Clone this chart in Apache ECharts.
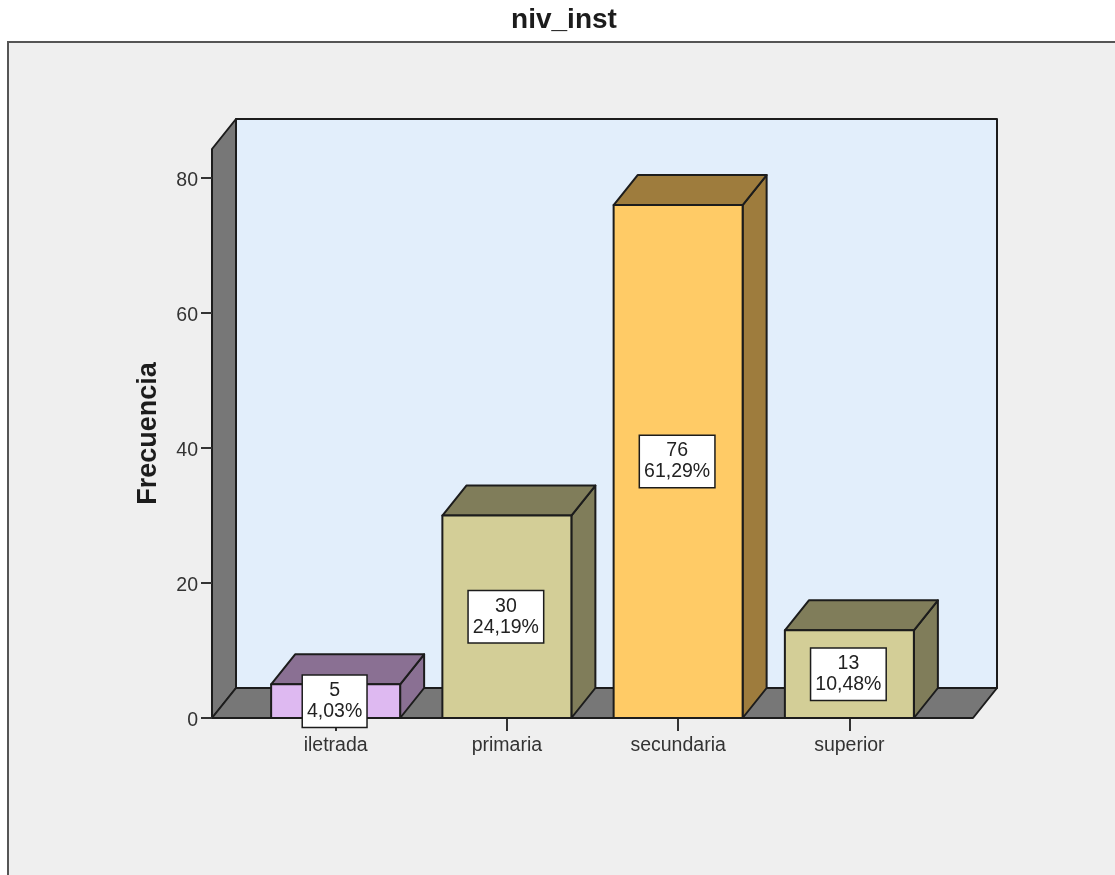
<!DOCTYPE html>
<html>
<head>
<meta charset="utf-8">
<style>html,body{margin:0;padding:0;background:#fff}#chart{width:1115px;height:875px}</style>
<script src="https://cdn.jsdelivr.net/npm/echarts@6/dist/echarts.min.js"></script>
</head>
<body>
<div id="chart"></div>
<script>
// Education level frequencies
const categories = ['iletrada', 'primaria', 'secundaria', 'superior'];
const frequencies = [5, 30, 76, 13];
const percentages = ['4,03%', '24,19%', '61,29%', '10,48%'];
const yTicks = [0, 20, 40, 60, 80];

// Bar faces: front and shaded side per category
const frontColors = ['#DEB9F1', '#D3CE97', '#FFCB66', '#D3CE97'];
const sideColors = ['#8A7093', '#807D5A', '#9E7C3D', '#807D5A'];

const INK = '#1c1c1c';
const FONT = '"Liberation Sans", Arial, sans-serif';
const DEPTH_X = 24, DEPTH_Y = 30;   // oblique projection of the chart box
const WALL_LEFT = 38, FLOOR_RIGHT = 38; // floor overhang beyond the outer category bands
const BAR_WIDTH = 129;

const face = (points, fill) => ({
  type: 'polygon',
  shape: { points },
  style: { fill, stroke: INK, lineWidth: 2, lineJoin: 'round' }
});

// Side wall, floor and back wall of the box
function renderBox(params, api) {
  const cs = params.coordSys;
  const l = cs.x - WALL_LEFT, r = cs.x + cs.width + FLOOR_RIGHT;
  const t = cs.y, b = cs.y + cs.height;
  return {
    type: 'group',
    children: [
      face([[l + DEPTH_X, t - DEPTH_Y], [r + DEPTH_X, t - DEPTH_Y], [r + DEPTH_X, b - DEPTH_Y], [l + DEPTH_X, b - DEPTH_Y]], '#E2EEFB'),
      face([[l, t], [l + DEPTH_X, t - DEPTH_Y], [l + DEPTH_X, b - DEPTH_Y], [l, b]], '#777777'),
      face([[l, b], [l + DEPTH_X, b - DEPTH_Y], [r + DEPTH_X, b - DEPTH_Y], [r, b]], '#777777')
    ]
  };
}

// A prism per category, sized through the axes
function renderBar(params, api) {
  const i = params.dataIndex;
  const top = api.coord([api.value(0), api.value(1)]);
  const base = api.coord([api.value(0), 0]);
  const x0 = top[0] - BAR_WIDTH / 2, x1 = top[0] + BAR_WIDTH / 2;
  const y0 = top[1], y1 = base[1];
  return {
    type: 'group',
    children: [
      face([[x1, y0], [x1 + DEPTH_X, y0 - DEPTH_Y], [x1 + DEPTH_X, y1 - DEPTH_Y], [x1, y1]], sideColors[i]),
      face([[x0, y0], [x0 + DEPTH_X, y0 - DEPTH_Y], [x1 + DEPTH_X, y0 - DEPTH_Y], [x1, y0]], sideColors[i]),
      face([[x0, y0], [x1, y0], [x1, y1], [x0, y1]], frontColors[i]),
      {
        type: 'text',
        z2: 10,
        style: {
          x: top[0] - 1, y: (y0 + y1) / 2,
          text: api.value(1) + '\n' + percentages[i],
          align: 'center', verticalAlign: 'middle',
          font: '19.5px ' + FONT, lineHeight: 21, fill: '#222',
          backgroundColor: '#fff', borderColor: INK, borderWidth: 1.5,
          padding: [6, 4, 3, 4]
        }
      }
    ]
  };
}

const chart = echarts.init(document.getElementById('chart'), null, { renderer: 'canvas' });
chart.setOption({
  animation: false,
  backgroundColor: '#fff',
  title: {
    text: 'niv_inst', left: 559, top: 1, textAlign: 'center',
    textStyle: { fontFamily: FONT, fontSize: 28, fontWeight: 'bold', color: '#1c1c1c' }
  },
  graphic: [{
    type: 'rect', z: -10, silent: true,
    shape: { x: 8, y: 42, width: 1120, height: 850 },
    style: { fill: '#EFEFEF', stroke: '#555', lineWidth: 2 }
  }],
  grid: { left: 250, right: 180, top: 149, bottom: 157, containLabel: false },
  xAxis: {
    type: 'category', data: categories,
    axisLine: { show: false },
    axisTick: { show: true, alignWithLabel: true, length: 13, lineStyle: { color: '#333', width: 2 } },
    axisLabel: { fontFamily: FONT, fontSize: 19.5, color: '#333', margin: 18 },
    z: 1
  },
  yAxis: {
    type: 'value', min: 0, max: 84.3, offset: 38,
    name: 'Frecuencia', nameLocation: 'middle', nameGap: 50,
    nameTextStyle: { fontFamily: FONT, fontSize: 27, fontWeight: 'bold', color: '#1c1c1c' },
    splitLine: { show: false },
    axisLine: { show: false },
    axisTick: { show: true, length: 11, customValues: yTicks, lineStyle: { color: '#333', width: 2 } },
    axisLabel: {
      margin: 14, customValues: yTicks,
      formatter: v => '{tick|' + v + '}',
      rich: { tick: { fontFamily: FONT, fontSize: 19.5, color: '#333', padding: [5, 0, 0, 0] } }
    }
  },
  series: [
    { type: 'custom', coordinateSystem: 'cartesian2d', renderItem: renderBox, data: [[0, 0]], z: 0, silent: true },
    {
      type: 'custom', coordinateSystem: 'cartesian2d', renderItem: renderBar, z: 2, silent: true,
      data: categories.map((c, i) => [i, frequencies[i]]),
      encode: { x: 0, y: 1 }
    }
  ]
});
</script>
</body>
</html>
